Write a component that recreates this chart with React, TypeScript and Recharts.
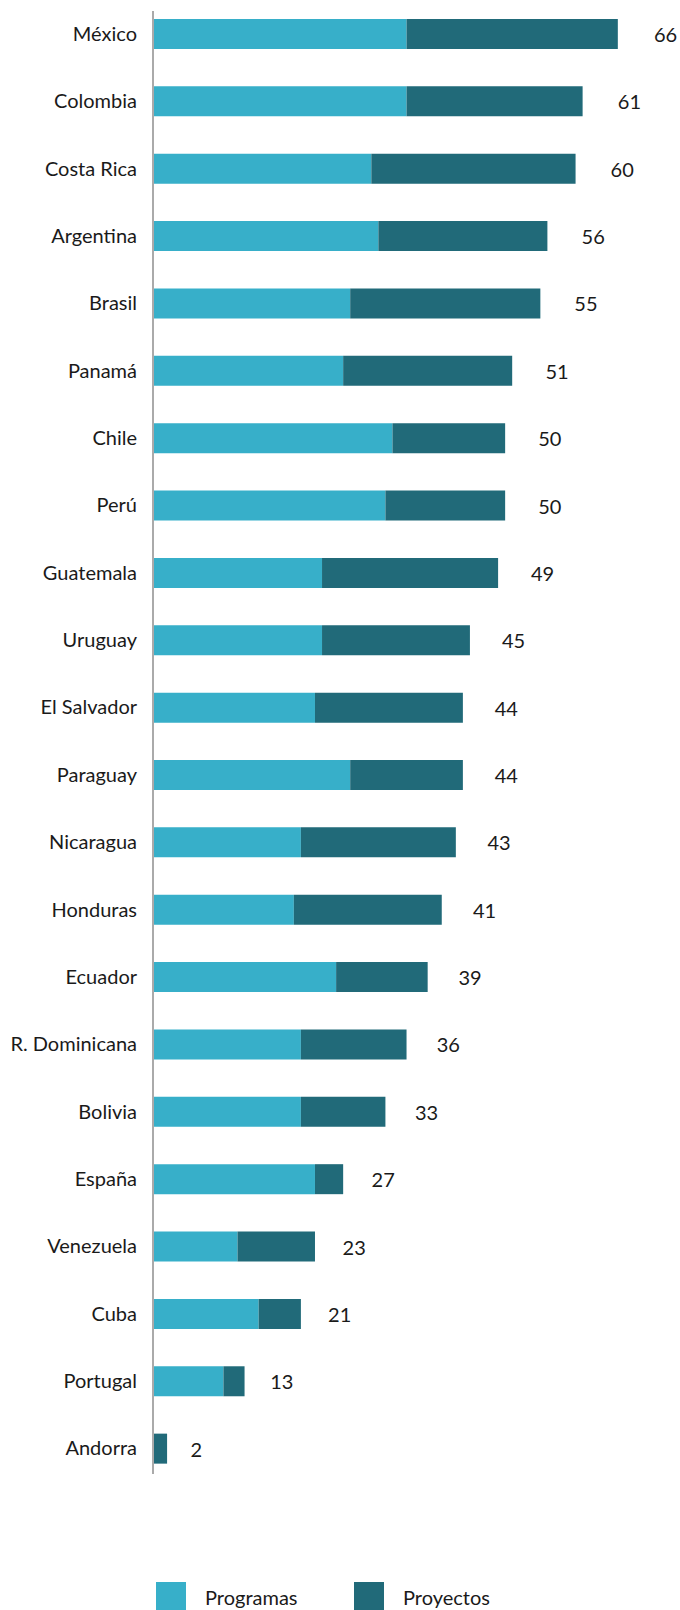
import { BarChart, Bar, XAxis, YAxis, LabelList } from 'recharts'

const countries = [
  'México', 'Colombia', 'Costa Rica', 'Argentina', 'Brasil', 'Panamá', 'Chile', 'Perú',
  'Guatemala', 'Uruguay', 'El Salvador', 'Paraguay', 'Nicaragua', 'Honduras', 'Ecuador',
  'R. Dominicana', 'Bolivia', 'España', 'Venezuela', 'Cuba', 'Portugal', 'Andorra',
]
const programas = [36, 36, 31, 32, 28, 27, 34, 33, 24, 24, 23, 28, 21, 20, 26, 21, 21, 23, 12, 15, 10, 0]
const proyectos = [30, 25, 29, 24, 27, 24, 16, 17, 25, 21, 21, 16, 22, 21, 13, 15, 12, 4, 11, 6, 3, 2]

const LIGHT = '#37afc9'
const DARK = '#216a79'
const FONT = 'Lato, "Open Sans", sans-serif'

const data = countries.map((name, i) => ({
  name,
  programas: programas[i],
  proyectos: proyectos[i],
  total: programas[i] + proyectos[i],
}))

// total label sits a bit further right for longer bars
function TotalLabel(props: any) {
  const { x, y, width, height, index } = props
  const total = data[index].total
  return (
    <text
      x={x + width + 23 + total * 0.2}
      y={y + height / 2}
      dominantBaseline="central"
      fontSize={20}
      fontFamily={FONT}
      fill="#1a1a1a"
    >
      {total}
    </text>
  )
}

const legendItems = [
  { label: 'Programas', color: LIGHT },
  { label: 'Proyectos', color: DARK },
]

export default function App() {
  return (
    <div style={{ position: 'absolute', left: 0, top: 0, width: 680, height: 1610, background: '#fff', overflow: 'hidden' }}>
      <BarChart
        width={680}
        height={1610}
        data={data}
        layout="vertical"
        margin={{ top: 0, right: 34, bottom: 128, left: 0 }}
      >
        <XAxis type="number" hide domain={[0, 70]} />
        <YAxis
          type="category"
          dataKey="name"
          width={153}
          tickLine={false}
          tickMargin={10}
          axisLine={{ stroke: '#aaaaaa', strokeWidth: 2, strokeDasharray: '0 11 1463 100' }}
          tick={{ fontSize: 20, fontFamily: FONT, fill: '#1a1a1a' }}
          interval={0}
        />
        <Bar dataKey="programas" name="Programas" stackId="a" fill={LIGHT} barSize={30} isAnimationActive={false} />
        <Bar dataKey="proyectos" name="Proyectos" stackId="a" fill={DARK} barSize={30} isAnimationActive={false}>
          <LabelList dataKey="total" content={<TotalLabel />} />
        </Bar>
      </BarChart>
      <div
        style={{
          position: 'absolute', top: 1582, left: 156, display: 'flex', width: 500,
          fontFamily: FONT, fontSize: 20, color: '#1a1a1a',
        }}
      >
        {legendItems.map((it) => (
          <div key={it.label} style={{ display: 'flex', alignItems: 'center', width: 198, flexShrink: 0 }}>
            <span style={{ display: 'inline-block', flexShrink: 0, width: 30, height: 30, background: it.color, marginRight: 19 }} />
            <span style={{ whiteSpace: 'nowrap' }}>{it.label}</span>
          </div>
        ))}
      </div>
    </div>
  )
}
